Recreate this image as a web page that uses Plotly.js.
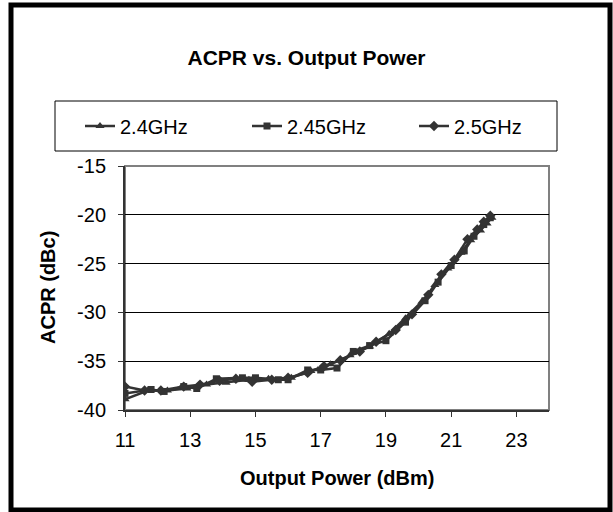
<!DOCTYPE html>
<html>
<head>
<meta charset="utf-8">
<script src="https://cdn.plot.ly/plotly-3.0.1.min.js"></script>
<style>html,body{margin:0;padding:0;background:#fff}#chart{width:613px;height:512px}</style>
</head>
<body>
<div id="chart"></div>
<script>
const seriesNames = ["2.4GHz", "2.45GHz", "2.5GHz"];
const x24 = [11, 11.7, 12.3, 12.9, 13.5, 14.1, 14.8, 15.4, 16.1, 16.7, 17.3, 17.9, 18.5, 19.1, 19.6, 20.1, 20.5, 20.9, 21.3, 21.6, 21.9, 22.1, 22.25];
const y24 = [-38.9, -38.0, -38.0, -37.8, -37.4, -37.2, -36.9, -36.8, -36.7, -36.0, -35.3, -34.4, -33.5, -32.2, -30.6, -28.9, -27.2, -25.5, -23.9, -22.6, -21.6, -20.9, -20.3];
const x245 = [11, 11.8, 12.2, 12.8, 13.2, 13.8, 14.6, 15.0, 15.7, 16.0, 16.6, 17.0, 17.5, 18.0, 18.5, 19.0, 19.6, 20.2, 20.6, 21.0, 21.4, 21.7, 22.0, 22.2];
const y245 = [-38.3, -37.9, -38.1, -37.6, -37.8, -36.8, -36.7, -36.7, -36.9, -36.9, -35.9, -35.9, -35.7, -34.0, -33.4, -32.9, -31.0, -28.8, -26.9, -25.2, -23.7, -22.2, -21.0, -20.3];
const x25 = [11, 11.6, 12.1, 12.8, 13.3, 13.9, 14.4, 14.9, 15.5, 16.0, 16.6, 17.1, 17.6, 18.2, 18.7, 19.3, 19.8, 20.3, 20.7, 21.1, 21.5, 21.8, 22.0, 22.2];
const y25 = [-37.6, -38.0, -38.0, -37.6, -37.4, -37.0, -36.8, -37.1, -36.9, -36.7, -36.2, -35.5, -34.9, -34.0, -33.0, -31.8, -30.2, -28.2, -26.1, -24.6, -22.5, -21.5, -20.7, -20.1];
const xTicks = [11, 13, 15, 17, 19, 21, 23];
const yTicks = [-40, -35, -30, -25, -20, -15];
const yTickText = ["-40", "-35", "-30", "-25", "-20", "-15"];

const col = "#333333";
const font = "Liberation Sans, Arial, sans-serif";
function tr(name, x, y, sym, size) {
  return {type: "scatter", mode: "lines+markers", name: name, x: x, y: y,
    line: {color: col, width: 2.5}, marker: {symbol: sym, size: size, color: col}};
}
const data = [
  tr(seriesNames[0], x24, y24, "triangle-up", 8),
  tr(seriesNames[1], x245, y245, "square", 7),
  tr(seriesNames[2], x25, y25, "diamond", 8)
];
const W = 424, H = 244, L = 125, T = 166;
function px(v){return (v - L) / W;}
function py(v){return (T + H - v) / H;}
const layout = {
  width: 613, height: 512,
  margin: {l: L, r: 613 - L - W, t: T, b: 512 - T - H, pad: 0},
  paper_bgcolor: "#fff", plot_bgcolor: "#fff",
  font: {family: font, size: 20, color: "#000"},
  title: {text: "<b>ACPR vs. Output Power</b>", font: {family: font, size: 21, color: "#000"}, x: 0.5, xanchor: "center", y: 1 - 58/512, yanchor: "middle"},
  showlegend: true,
  legend: {orientation: "h", x: px(80), xanchor: "left", y: py(126), yanchor: "middle",
    bgcolor: "rgba(0,0,0,0)", borderwidth: 0, font: {family: font, size: 20, color: "#000"},
    entrywidth: 122, entrywidthmode: "pixels", itemclick: false},
  xaxis: {range: [11, 24], tickvals: xTicks, ticks: "outside", ticklen: 5, tickwidth: 1, tickcolor: "#333",
    showline: true, linecolor: "#333", linewidth: 2, showgrid: false, zeroline: false,
    ticklabelstandoff: 6,
    tickfont: {family: font, size: 20, color: "#000"}},
  yaxis: {range: [-40, -15], tickvals: yTicks, ticktext: yTickText, ticks: "outside", ticklen: 5, tickwidth: 1, tickcolor: "#333",
    showline: true, linecolor: "#333", linewidth: 2, showgrid: true, gridcolor: "#000", gridwidth: 1, zeroline: false,
    ticklabelstandoff: 8,
    tickfont: {family: font, size: 20, color: "#000"}},
  annotations: [
    {text: "<b>Output Power (dBm)</b>", xref: "paper", yref: "paper", x: 0.5, xanchor: "center", y: py(478), yanchor: "middle", showarrow: false, font: {family: font, size: 20, color: "#000"}},
    {text: "<b>ACPR (dBc)</b>", xref: "paper", yref: "paper", x: px(48), xanchor: "center", y: 0.5, yanchor: "middle", textangle: -90, showarrow: false, font: {family: font, size: 20, color: "#000"}}
  ],
  shapes: [
    {type: "rect", xref: "paper", yref: "paper", x0: 0, x1: 1, y0: 0, y1: 1, line: {color: "#808080", width: 2}, layer: "below"},
    {type: "rect", xref: "paper", yref: "paper", x0: px(55), x1: px(557), y0: py(151), y1: py(101), line: {color: "#000", width: 1}},
    {type: "rect", xref: "paper", yref: "paper", x0: px(11), x1: px(610), y0: py(510), y1: py(5), line: {color: "#000", width: 5}}
  ]
};
Plotly.newPlot("chart", data, layout, {staticPlot: true, displayModeBar: false});
</script>
</body>
</html>
